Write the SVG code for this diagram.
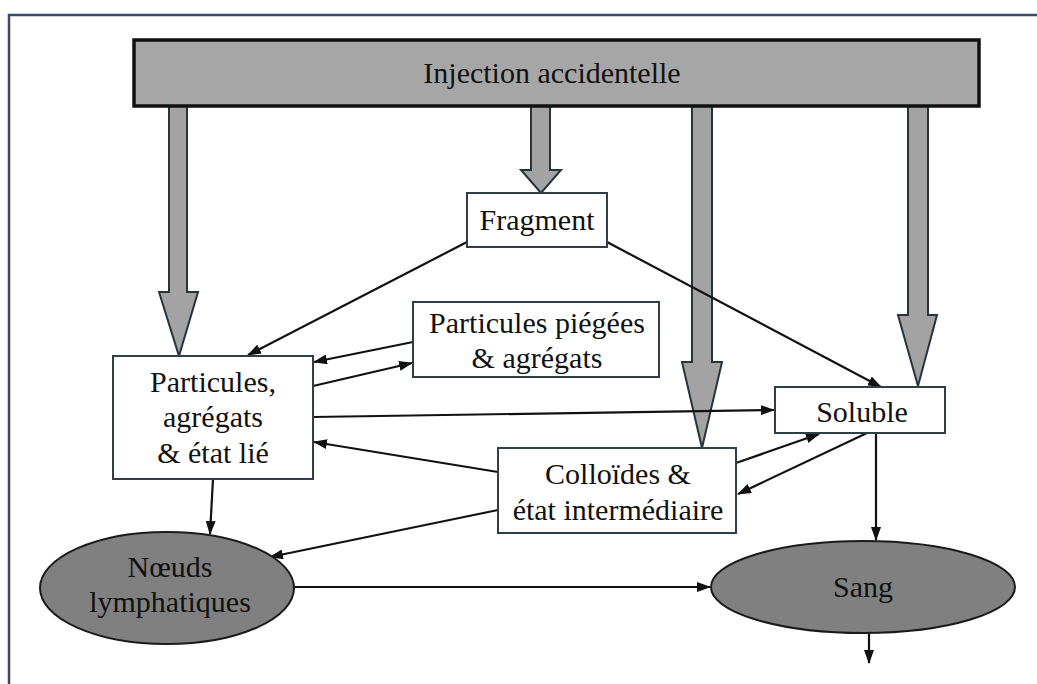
<svg xmlns="http://www.w3.org/2000/svg" width="1037" height="684" viewBox="0 0 1037 684">
<defs>
<marker id="ah" markerUnits="userSpaceOnUse" markerWidth="14" markerHeight="10" refX="13" refY="5" orient="auto">
<path d="M0,0 L14,5 L0,10 z" fill="#111"/>
</marker>
<style>
.t{font-family:"Liberation Serif","Times New Roman",serif;font-size:30px;fill:#111;text-anchor:middle}
.box{fill:#fff;stroke:#2e3f48;stroke-width:2}
.ell{fill:#808080;stroke:#1a1a1a;stroke-width:2}
.big{fill:#a3a3a3;stroke:#26343c;stroke-width:2;stroke-linejoin:miter}
.c{fill:none;stroke:#111;stroke-width:2.2;marker-end:url(#ah)}
.frame{fill:none;stroke:#3d4a66;stroke-width:2.5}
</style>
</defs>
<rect width="1037" height="684" fill="#fff"/>
<path class="frame" d="M9,684 V15 H1037"/>

<g id="connectors">
<path class="big" d="M169,106 V292 H159 L179,356 L198,292 H187 V106 Z"/>
<path class="big" d="M531,106 V170 H521 L541,193 L561,170 H550 V106 Z"/>
<path class="big" d="M692,106 V362 H682 L702,448 L722,362 H712 V106 Z"/>
<path class="big" d="M908,106 V315 H898 L918,386 L937,315 H928 V106 Z"/>
<line class="c" x1="467" y1="242" x2="248" y2="355"/>
<line class="c" x1="607" y1="242" x2="881" y2="387"/>
<line class="c" x1="413" y1="342" x2="314" y2="362"/>
<line class="c" x1="313" y1="386" x2="412" y2="363"/>
<line class="c" x1="313" y1="417" x2="774" y2="410"/>
<line class="c" x1="498" y1="472" x2="314" y2="442"/>
<line class="c" x1="736" y1="463" x2="819" y2="434"/>
<line class="c" x1="867" y1="433" x2="738" y2="494"/>
<line class="c" x1="213" y1="479" x2="210" y2="534"/>
<line class="c" x1="498" y1="510" x2="270" y2="557"/>
<line class="c" x1="294" y1="587" x2="710" y2="587"/>
<line class="c" x1="876" y1="433" x2="876" y2="540"/>
<line class="c" x1="869" y1="634" x2="869" y2="663"/>
</g>

<g id="injection">
<rect x="134" y="40" width="845" height="66" fill="#a6a6a6" stroke="#111" stroke-width="3.5"/>
<text class="t" x="552" y="83">Injection accidentelle</text>
</g>
<g id="fragment">
<rect class="box" x="467" y="193" width="140" height="54"/>
<text class="t" x="537" y="230">Fragment</text>
</g>
<g id="piegees">
<rect class="box" x="413" y="302" width="246" height="75"/>
<text class="t" x="537" y="333">Particules piégées</text>
<text class="t" x="537" y="368">&amp; agrégats</text>
</g>
<g id="particules">
<rect class="box" x="113" y="356" width="200" height="123"/>
<text class="t" x="213" y="392">Particules,</text>
<text class="t" x="213" y="427">agrégats</text>
<text class="t" x="213" y="463">&amp; état lié</text>
</g>
<g id="soluble">
<rect class="box" x="775" y="387" width="170" height="46"/>
<text class="t" x="862" y="422">Soluble</text>
</g>
<g id="colloides">
<rect class="box" x="498" y="448" width="238" height="85"/>
<text class="t" x="618" y="484">Colloïdes &amp;</text>
<text class="t" x="618" y="520">état intermédiaire</text>
</g>
<g id="noeuds">
<ellipse class="ell" cx="167" cy="588" rx="127" ry="56"/>
<text class="t" x="170" y="577">Nœuds</text>
<text class="t" x="170" y="612">lymphatiques</text>
</g>
<g id="sang">
<ellipse class="ell" cx="863" cy="587" rx="152" ry="46"/>
<text class="t" x="863" y="597">Sang</text>
</g>
</svg>
